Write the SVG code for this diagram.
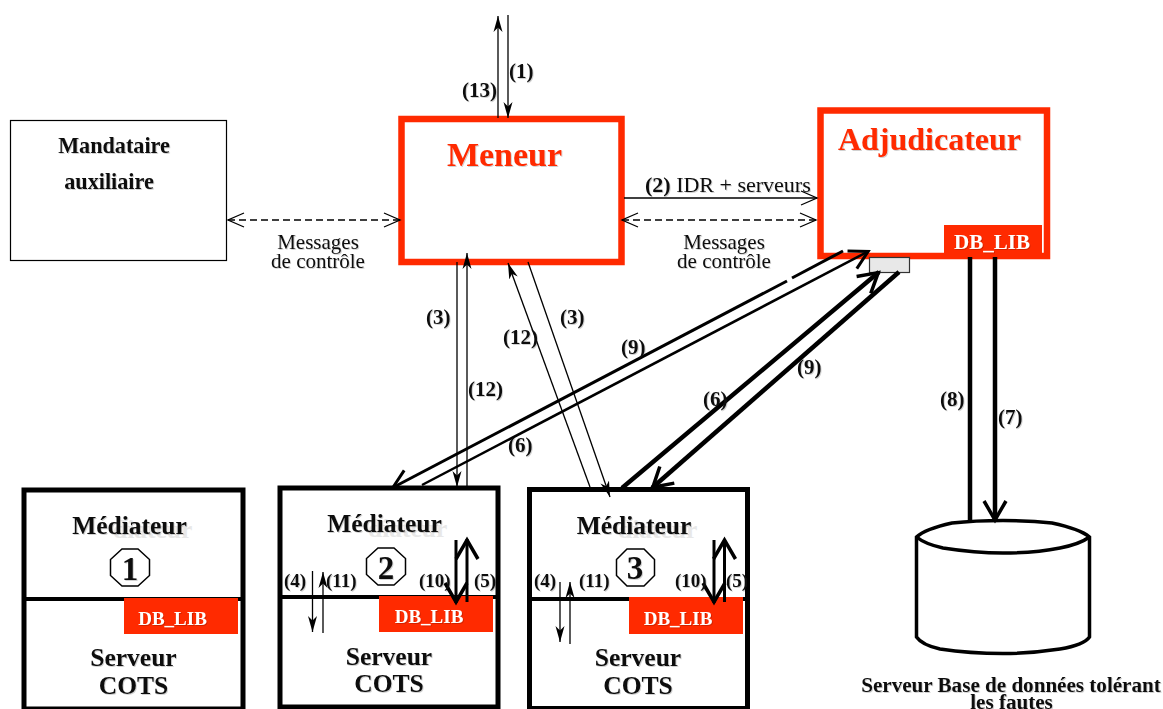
<svg xmlns="http://www.w3.org/2000/svg" width="1163" height="709" viewBox="0 0 1163 709">
<style>
text{font-family:"Liberation Serif","Times New Roman",serif;font-weight:bold;fill:#111;filter:url(#sh)}
.r{font-weight:normal;font-size:21px}
.n{font-size:21px}
.m{font-size:25.5px;text-anchor:middle}
.g{font-size:25.5px;fill:#e8e8e8;filter:none}
.db{fill:#fff;font-size:19px;text-anchor:middle}
.red{fill:#ff2a00}
.title{fill:#ff2a00}
.box{fill:#fff;stroke:#000;stroke-width:5}
.rbox{fill:#fff;stroke:#ff2a00;stroke-width:6.5}
.t1{stroke-width:1.3;fill:none;stroke:#000}
.t3{stroke-width:3;fill:none;stroke:#000}
.t4{stroke-width:4.5;fill:none;stroke:#000}
.oct{fill:#fff;stroke:#000;stroke-width:1.5}
</style>
<defs>
<filter id="sh" x="-5%" y="-10%" width="110%" height="125%"><feDropShadow dx="1" dy="1" stdDeviation="0.6" flood-color="#000" flood-opacity="0.18"/></filter>
<marker id="st" markerUnits="userSpaceOnUse" markerWidth="18" markerHeight="12" refX="16" refY="6" orient="auto-start-reverse"><path d="M0 1.500L16 6L0 10.500L4.500 6Z" fill="#000"/></marker>
<marker id="op" markerUnits="userSpaceOnUse" markerWidth="20" markerHeight="20" refX="17" refY="10" orient="auto-start-reverse"><path d="M1 3L17 10L1 17" fill="none" stroke="#000" stroke-width="1.300"/></marker>
<marker id="ot" markerUnits="userSpaceOnUse" markerWidth="26" markerHeight="28" refX="21" refY="14" orient="auto-start-reverse"><path d="M2 4L20 14L2 24" fill="none" stroke="#000" stroke-width="3"/></marker>
<marker id="oh" markerUnits="userSpaceOnUse" markerWidth="26" markerHeight="28" refX="22" refY="14" orient="auto-start-reverse"><path d="M2 3L21 14L2 25" fill="none" stroke="#000" stroke-width="3.500"/></marker>
</defs>

<g id="mandataire">
<rect x="10.500" y="120.500" width="216" height="140" fill="#fff" stroke="#000" stroke-width="1.200"/>
<text x="114" y="153" font-size="22.200" text-anchor="middle">Mandataire</text>
<text x="109" y="189" font-size="22.200" text-anchor="middle">auxiliaire</text>
</g>
<g id="meneur">
<rect class="rbox" x="401.500" y="119" width="220" height="143"/>
<text class="title" x="504.500" y="166" font-size="34" text-anchor="middle">Meneur</text>
</g>
<g id="adjudicateur">
<rect class="rbox" x="820.500" y="110.500" width="226.500" height="145.500"/>
<rect class="red" x="944" y="225" width="98" height="32"/>
<text class="title" x="929.500" y="150" font-size="32" text-anchor="middle">Adjudicateur</text>
<text class="db" x="992" y="249" style="font-size:21px">DB_LIB</text>
<rect x="869.500" y="257.500" width="40" height="15" fill="#e8e8e8" stroke="#333" stroke-width="1.200"/>
</g>
<g id="mediateur1">
<rect class="box" x="24" y="490" width="219" height="219"/>
<line x1="24" y1="599" x2="243" y2="599" stroke="#000" stroke-width="4"/>
<rect class="red" x="124" y="598" width="114" height="36"/>
<text class="g" x="113" y="538">diateur</text>
<text class="m" x="129.500" y="534">Médiateur</text>
<polygon class="oct" points="122,549 138,549 149.500,559.500 149.500,575.500 138,586 122,586 110.500,575.500 110.500,559.500"/>
<text x="130" y="580" font-size="33" text-anchor="middle">1</text>
<text class="db" x="172.500" y="625">DB_LIB</text>
<text class="m" x="133.500" y="666">Serveur</text>
<text class="m" x="133.500" y="694">COTS</text>
</g>
<g id="mediateur2">
<rect class="box" x="280" y="488" width="218" height="219"/>
<line x1="280" y1="597" x2="498" y2="597" stroke="#000" stroke-width="4"/>
<rect class="red" x="379" y="596" width="114" height="36"/>
<text class="g" x="368" y="537">diateur</text>
<text class="m" x="384.500" y="532">Médiateur</text>
<polygon class="oct" points="378,548 394,548 405.500,558.500 405.500,574.500 394,585 378,585 366.500,574.500 366.500,558.500"/>
<text x="386" y="579" font-size="33" text-anchor="middle">2</text>
<text class="db" x="429" y="623">DB_LIB</text>
<text class="m" x="389" y="665">Serveur</text>
<text class="m" x="389" y="692">COTS</text>
</g>
<g id="mediateur3">
<rect class="box" x="529.500" y="489.500" width="218" height="219"/>
<line x1="529.500" y1="599" x2="747.500" y2="599" stroke="#000" stroke-width="4"/>
<rect class="red" x="629" y="597" width="114" height="37"/>
<text class="g" x="618" y="538">diateur</text>
<text class="m" x="634" y="534">Médiateur</text>
<polygon class="oct" points="627,549 644,549 654.500,559.500 654.500,575.500 644,586 627,586 616.500,575.500 616.500,559.500"/>
<text x="635" y="579" font-size="33" text-anchor="middle">3</text>
<text class="db" x="678" y="625">DB_LIB</text>
<text class="m" x="638" y="666">Serveur</text>
<text class="m" x="638" y="694">COTS</text>
</g>
<g id="database">
<path d="M916.500 537Q925 529 952 523Q975 520.500 1003 520.500Q1030 520.500 1052 523Q1080 529 1089.500 537V637Q1084 645 1060 649Q1030 653.500 1003 653.500Q970 653.500 940 649Q922 645 916.500 637Z" fill="#fff" stroke="#000" stroke-width="3.500"/>
<path d="M916.500 537Q925 544 943 548Q975 553 1003 553Q1035 553 1060 548Q1080 544 1089.500 537" fill="none" stroke="#000" stroke-width="3.500"/>
<text x="1011" y="692" font-size="21.100" text-anchor="middle">Serveur Base de données tolérant</text>
<text x="1011.500" y="709" font-size="21.100" text-anchor="middle">les fautes</text>
</g>

<g id="connectors">
<line class="t1" x1="498" y1="118" x2="498" y2="16" marker-end="url(#st)"/>
<line class="t1" x1="508" y1="15" x2="508" y2="118" marker-end="url(#st)"/>
<line class="t1" x1="228" y1="220" x2="400" y2="220" stroke-dasharray="7 4" marker-start="url(#op)" marker-end="url(#op)"/>
<line class="t1" x1="622" y1="220" x2="816" y2="220" stroke-dasharray="7 4" marker-start="url(#op)" marker-end="url(#op)"/>
<line class="t1" x1="624" y1="198" x2="817" y2="198" marker-end="url(#op)"/>
<line class="t1" x1="457" y1="262" x2="457" y2="487" marker-end="url(#st)"/>
<line class="t1" x1="467" y1="488" x2="467" y2="253" marker-end="url(#st)"/>
<line class="t1" x1="590" y1="487" x2="508" y2="263" marker-end="url(#st)"/>
<line class="t1" x1="528" y1="262" x2="610" y2="497" marker-end="url(#st)"/>
<line class="t3" x1="787" y1="281" x2="392" y2="488" marker-end="url(#ot)"/>
<line class="t3" x1="792" y1="278" x2="843" y2="251"/>
<line class="t3" x1="422" y1="485" x2="869" y2="251" style="stroke-width:2.500" marker-end="url(#ot)"/>
<line class="t4" x1="622" y1="488" x2="879" y2="272" marker-end="url(#oh)"/>
<line class="t4" x1="899" y1="272" x2="652" y2="488" marker-end="url(#oh)"/>
<line class="t4" x1="970" y1="257" x2="970" y2="521"/>
<line class="t4" x1="995" y1="257" x2="995" y2="521" marker-end="url(#oh)"/>
<line class="t1" x1="312.500" y1="571" x2="312.500" y2="632" marker-end="url(#st)"/>
<line class="t1" x1="323" y1="633" x2="323" y2="572" marker-end="url(#st)"/>
<line class="t1" x1="560" y1="582" x2="560" y2="642" marker-end="url(#st)"/>
<line class="t1" x1="570" y1="644" x2="570" y2="582" marker-end="url(#st)"/>
<line class="t3" x1="456" y1="540" x2="456" y2="603" marker-end="url(#oh)"/>
<line class="t3" x1="467" y1="602" x2="467" y2="539" marker-end="url(#oh)"/>
<line class="t3" x1="714" y1="540" x2="714" y2="603" marker-end="url(#oh)"/>
<line class="t3" x1="724.500" y1="602" x2="724.500" y2="539" marker-end="url(#oh)"/>
</g>

<g id="labels">
<text class="n" x="462" y="97">(13)</text>
<text class="n" x="509" y="78">(1)</text>
<text class="r" x="645" y="192" style="font-size:22px"><tspan font-weight="bold">(2)</tspan> IDR + serveurs</text>
<text class="r" x="318" y="249" text-anchor="middle">Messages</text>
<text class="r" x="318" y="268" text-anchor="middle">de contrôle</text>
<text class="r" x="724" y="249" text-anchor="middle">Messages</text>
<text class="r" x="724" y="268" text-anchor="middle">de contrôle</text>
<text class="n" x="426" y="324">(3)</text>
<text class="n" x="468" y="396">(12)</text>
<text class="n" x="503" y="344">(12)</text>
<text class="n" x="560" y="324">(3)</text>
<text class="n" x="621" y="354">(9)</text>
<text class="n" x="508" y="452">(6)</text>
<text class="n" x="703" y="406">(6)</text>
<text class="n" x="797" y="374">(9)</text>
<text class="n" x="940" y="406">(8)</text>
<text class="n" x="998" y="424">(7)</text>
<text class="n" x="284" y="587" style="font-size:19px">(4)</text>
<text class="n" x="326" y="587" style="font-size:19px">(11)</text>
<text class="n" x="419" y="587" style="font-size:19px">(10)</text>
<text class="n" x="474" y="587" style="font-size:19px">(5)</text>
<text class="n" x="534" y="587" style="font-size:19px">(4)</text>
<text class="n" x="579" y="587" style="font-size:19px">(11)</text>
<text class="n" x="675" y="587" style="font-size:19px">(10)</text>
<text class="n" x="726" y="587" style="font-size:19px">(5)</text>
</g>
</svg>
